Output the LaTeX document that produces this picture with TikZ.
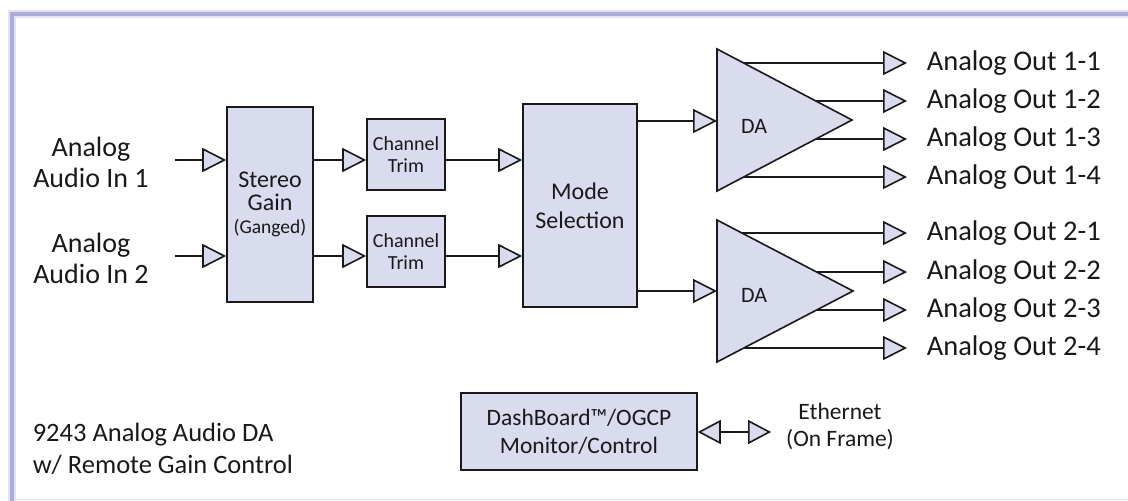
\documentclass[tikz,border=0pt]{standalone}
\usepackage{fontspec}
\setmainfont{Carlito}
\usetikzlibrary{arrows.meta}
\definecolor{boxfill}{RGB}{217,220,238}
\definecolor{framecol}{RGB}{172,172,214}
\definecolor{ink}{RGB}{25,25,25}

\begin{document}
\begin{tikzpicture}[x=1pt, y=-1pt, line width=1.6pt, color=ink,
	blk/.style={draw, fill=boxfill, inner sep=0pt, align=center},
	sig/.style={-{Triangle[length=24pt, width=24pt, fill=boxfill]}},
	outlbl/.style={anchor=west, inner xsep=19pt, inner ysep=0pt, font=\fontsize{28.5}{32}\selectfont}]
				\tikzstyle{every node}=[align=center]
				\useasboundingbox (0,0) rectangle (1128,501);
				% frame
				\draw[framecol!35, line width=8pt] (12,505) -- (12,14) -- (1132,14);
				\draw[framecol, line width=3.5pt] (12,505) -- (12,14) -- (1132,14);
				\draw[black!10, line width=1pt] (14,499.5) -- (1128,499.5);
				% inputs
				\node[font=\fontsize{28}{31}\selectfont] (in1) at (91,162) {Analog\\Audio In 1};
				\node[font=\fontsize{28}{31}\selectfont] (in2) at (91,258) {Analog\\Audio In 2};
				\coordinate (a1) at (175,160);
				\coordinate (a2) at (175,256);
				% blocks
				\node[blk, minimum width=86pt, minimum height=195pt, font=\fontsize{24}{23}\selectfont] (gain) at (270,204.5) {Stereo\\Gain\\{\fontsize{19.5}{23}\selectfont (Ganged)}};
				\node[blk, minimum width=78pt, minimum height=71pt, font=\fontsize{20}{22}\selectfont] (trim1) at (406,154.5) {Channel\\Trim};
				\node[blk, minimum width=78pt, minimum height=71pt, font=\fontsize{20}{22}\selectfont] (trim2) at (406,251.5) {Channel\\Trim};
				\node[blk, minimum width=114pt, minimum height=203pt, font=\fontsize{24}{29}\selectfont] (mode) at (580,205.5) {Mode\\Selection};
				\node[blk, minimum width=236pt, minimum height=77pt, font=\fontsize{23.5}{28}\selectfont] (dash) at (579,431.5) {DashBoard™/OGCP\\Monitor/Control};
				\draw[sig] (a1) -- (gain.west |- a1);
				\draw[sig] (a2) -- (gain.west |- a2);
				\draw[sig] (gain.east |- a1) -- (trim1.west |- a1);
				\draw[sig] (gain.east |- a2) -- (trim2.west |- a2);
				\draw[sig] (trim1.east |- a1) -- (mode.west |- a1);
				\draw[sig] (trim2.east |- a2) -- (mode.west |- a2);
				% DA 1
				\draw[fill=boxfill] (717,49) -- (852,120) -- (717,191) -- cycle;
				\node[font=\fontsize{22}{26}\selectfont] (da1) at (754,126) {DA};
				\coordinate (da1in) at (717,121);
				\draw[sig] (mode.east |- da1in) -- (da1in);
				% DA 2
				\draw[fill=boxfill] (717,220) -- (853,291) -- (717,362) -- cycle;
				\node[font=\fontsize{22}{26}\selectfont] (da2) at (754,295) {DA};
				\coordinate (da2in) at (717,291);
				\draw[sig] (mode.east |- da2in) -- (da2in);
				% outputs
				\node[outlbl] (o11) at (907,63) {Analog Out 1-1};
				\node[outlbl] (o12) at (907,101) {Analog Out 1-2};
				\node[outlbl] (o13) at (907,139) {Analog Out 1-3};
				\node[outlbl] (o14) at (907,177) {Analog Out 1-4};
				\node[outlbl] (o21) at (907,233) {Analog Out 2-1};
				\node[outlbl] (o22) at (907,272) {Analog Out 2-2};
				\node[outlbl] (o23) at (907,310) {Analog Out 2-3};
				\node[outlbl] (o24) at (907,348) {Analog Out 2-4};
				\coordinate (s11) at (744,63);
				\coordinate (s12) at (816,101);
				\coordinate (s13) at (816,139);
				\coordinate (s14) at (744,177);
				\coordinate (s21) at (742,233);
				\coordinate (s22) at (817,272);
				\coordinate (s23) at (817,310);
				\coordinate (s24) at (744,348);
				\draw[sig] (s11) -- (o11.west);
				\draw[sig] (s12) -- (o12.west);
				\draw[sig] (s13) -- (o13.west);
				\draw[sig] (s14) -- (o14.west);
				\draw[sig] (s21) -- (o21.west);
				\draw[sig] (s22) -- (o22.west);
				\draw[sig] (s23) -- (o23.west);
				\draw[sig] (s24) -- (o24.west);
				% control
				\node[font=\fontsize{23.5}{27}\selectfont] (eth) at (840,426.5) {Ethernet\\(On Frame)};
				\coordinate (ethin) at (771,432);
				\draw[{Triangle[length=23pt, width=24pt, fill=boxfill]}-{Triangle[length=23pt, width=24pt, fill=boxfill]}] (dash.east |- ethin) -- (ethin);
				\node[anchor=west, align=left, inner sep=0pt, font=\fontsize{26.5}{32}\selectfont] (title) at (32,449) {9243 Analog Audio DA\\w/ Remote Gain Control};
		\end{tikzpicture}
\end{document}
